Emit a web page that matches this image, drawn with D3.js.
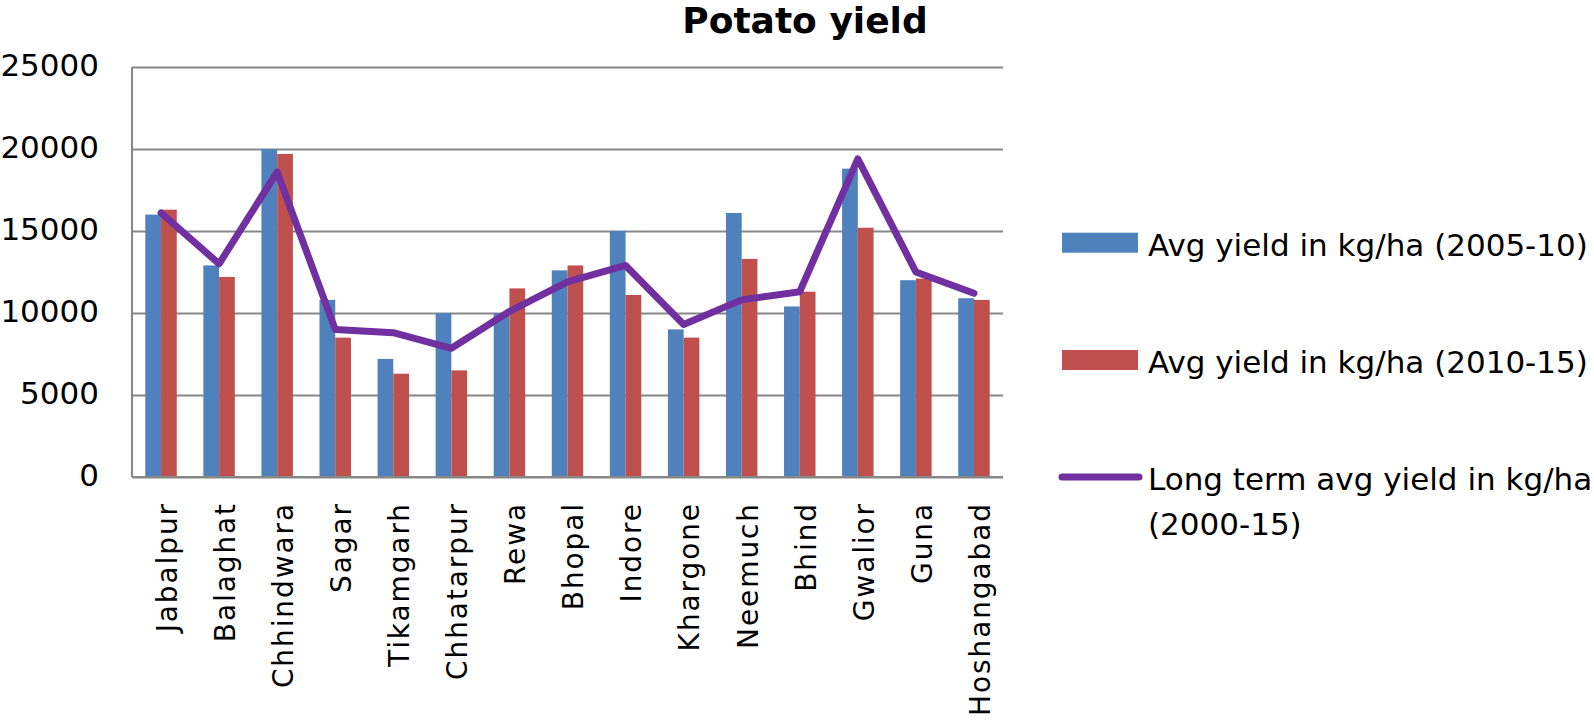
<!DOCTYPE html>
<html>
<head>
<meta charset="utf-8">
<script src="https://cdn.jsdelivr.net/npm/d3@7"></script>
<style>
  body { margin: 0; background: #fff; }
  text { font-family: "DejaVu Sans", sans-serif; fill: #000; }
</style>
</head>
<body>
<svg id="vis" width="1594" height="720"></svg>
<script>
// chart data
const districts = ['Jabalpur', 'Balaghat', 'Chhindwara', 'Sagar', 'Tikamgarh', 'Chhatarpur', 'Rewa', 'Bhopal',
  'Indore', 'Khargone', 'Neemuch', 'Bhind', 'Gwalior', 'Guna', 'Hoshangabad']
const yield0510 = [16000, 12900, 20000, 10800, 7200, 10000, 10000, 12600, 15000, 9000, 16100, 10400, 18800, 12000, 10900]
const yield1015 = [16300, 12200, 19700, 8500, 6300, 6500, 11500, 12900, 11100, 8500, 13300, 11300, 15200, 12100, 10800]
const longTerm = [16100, 13000, 18600, 9000, 8800, 7850, 10100, 11900, 12900, 9300, 10800, 11300, 19400, 12500, 11200]
const yTicks = [0, 5000, 10000, 15000, 20000, 25000]
const seriesNames = ['Avg yield in kg/ha (2005-10)', 'Avg yield in kg/ha (2010-15)', 'Long term avg yield in kg/ha', '(2000-15)']

const colors = {blue: '#4F81BD', red: '#C0504D', purple: '#7030A0', grid: '#878787'}
const margin = {left: 132, right: 591, top: 67, bottom: 243}
const width = 1594 - margin.left - margin.right
const height = 720 - margin.top - margin.bottom

const svg = d3.select('#vis')
const chart = svg.append('g')
  .attr('transform', 'translate(' + margin.left + ',' + margin.top + ')')

const x = d3.scaleBand().domain(districts).range([0, width]).paddingInner(0.458).paddingOuter(0.229)
const xSub = d3.scaleBand().domain([0, 1]).range([0, x.bandwidth()])
const y = d3.scaleLinear().domain([0, 25000]).range([height, 0])

// gridlines
chart.append('g')
  .attr('class', 'grid')
  .call(d3.axisLeft(y).tickValues(yTicks).tickSize(-width).tickFormat(''))
  .call(g => g.select('.domain').remove())
  .selectAll('line')
  .attr('stroke', colors.grid)
  .attr('stroke-width', 2)

// left axis line and tick labels
chart.append('line')
  .attr('x1', 0).attr('x2', 0).attr('y1', 0).attr('y2', height)
  .attr('stroke', colors.grid).attr('stroke-width', 2)

const yAxis = chart.append('g')
  .call(d3.axisLeft(y).tickValues(yTicks).tickSize(0).tickPadding(33).tickFormat(d3.format('d')))
yAxis.select('.domain').remove()
yAxis.selectAll('text')
  .style('font-family', '"DejaVu Sans", sans-serif')
  .style('font-size', '31px')
  .attr('dy', '0.28em')

// bars
const rows = districts.map((d, i) => ({name: d, vals: [yield0510[i], yield1015[i]]}))
const groups = chart.selectAll('.district')
  .data(rows)
  .enter()
  .append('g')
  .attr('class', 'district')
  .attr('transform', d => 'translate(' + x(d.name) + ',0)')

groups.selectAll('rect')
  .data(d => d.vals)
  .enter()
  .append('rect')
  .attr('x', (d, i) => xSub(i))
  .attr('width', xSub.bandwidth())
  .attr('y', d => y(d))
  .attr('height', d => height - y(d))
  .attr('fill', (d, i) => i === 0 ? colors.blue : colors.red)

// bottom axis line
chart.append('line')
  .attr('x1', 0).attr('x2', width).attr('y1', height).attr('y2', height)
  .attr('stroke', colors.grid).attr('stroke-width', 2)

// long term line
const line = d3.line()
  .x((d, i) => x(districts[i]) + x.bandwidth() / 2)
  .y(d => y(d))

chart.append('path')
  .datum(longTerm)
  .attr('d', line)
  .attr('fill', 'none')
  .attr('stroke', colors.purple)
  .attr('stroke-width', 7)
  .attr('stroke-linejoin', 'round')
  .attr('stroke-linecap', 'round')

// rotated category labels
chart.selectAll('.xlabel')
  .data(districts)
  .enter()
  .append('text')
  .attr('class', 'xlabel')
  .attr('transform', d => 'translate(' + (x(d) + x.bandwidth() / 2 + 6) + ',' + (height + 25) + ') rotate(-90)')
  .attr('text-anchor', 'end')
  .attr('dy', '0.35em')
  .style('font-size', '28px')
  .style('letter-spacing', '1.9px')
  .text(d => d)

// title
svg.append('text')
  .attr('x', 805)
  .attr('y', 33)
  .attr('text-anchor', 'middle')
  .style('font-size', '36px')
  .style('font-weight', 'bold')
  .text('Potato yield')

// legend
const legend = svg.append('g').attr('transform', 'translate(1062,0)')
const legendRows = [
  {type: 'rect', color: colors.blue, cy: 242.7, label: [seriesNames[0]]},
  {type: 'rect', color: colors.red, cy: 360, label: [seriesNames[1]]},
  {type: 'line', color: colors.purple, cy: 477, label: [seriesNames[2], seriesNames[3]]}
]
legendRows.forEach(r => {
  if (r.type === 'rect') {
    legend.append('rect')
      .attr('x', 0).attr('y', r.cy - 10)
      .attr('width', 76).attr('height', 20)
      .attr('fill', r.color)
  } else {
    legend.append('line')
      .attr('x1', 0).attr('x2', 77).attr('y1', r.cy).attr('y2', r.cy)
      .attr('stroke', r.color).attr('stroke-width', 7).attr('stroke-linecap', 'round')
  }
  const t = legend.append('text')
    .attr('x', 86)
    .attr('y', r.cy + 13)
    .style('font-size', '31px')
  r.label.forEach((s, i) => {
    t.append('tspan').attr('x', 86).attr('dy', i === 0 ? 0 : 45).text(s)
  })
})
</script>
</body>
</html>
